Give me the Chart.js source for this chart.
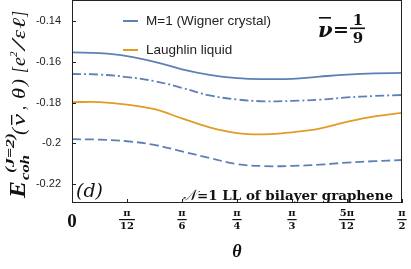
<!DOCTYPE html>
<html>
<head>
<meta charset="utf-8">
<script src="https://cdn.jsdelivr.net/npm/chart.js@4.4.0/dist/chart.umd.min.js"></script>
<style>
  html, body { margin: 0; padding: 0; background: #fff; }
  #wrap { width: 411px; height: 269px; }
</style>
</head>
<body>
<div id="wrap"><canvas id="chart"></canvas></div>
<script>
// theta in degrees (0 .. 90 = 0 .. pi/2)
const theta = [0, 7.5, 15, 22.5, 30, 37.5, 45, 52.5, 60, 67.5, 75, 82.5, 90];

const wignerSolid = [-0.1554, -0.1558, -0.1572, -0.1600, -0.1637, -0.1664, -0.1680, -0.1685, -0.1684, -0.1673, -0.1663, -0.1657, -0.1655];
const wignerDashDot = [-0.1660, -0.1663, -0.1675, -0.1695, -0.1728, -0.1765, -0.1785, -0.1794, -0.1792, -0.1786, -0.1775, -0.1768, -0.1763];
const laughlin = [-0.1798, -0.1798, -0.1810, -0.1833, -0.1878, -0.1922, -0.1950, -0.1956, -0.1946, -0.1928, -0.1895, -0.1868, -0.1851];
const wignerDashed = [-0.1980, -0.1982, -0.1990, -0.2008, -0.2040, -0.2072, -0.2102, -0.2112, -0.2111, -0.2105, -0.2095, -0.2088, -0.2082];

const yTicks = [-0.22, -0.20, -0.18, -0.16, -0.14];
const yTickLabels = ['-0.22', '-0.2', '-0.18', '-0.16', '-0.14'];

const xTicks = [0, 15, 30, 45, 60, 75, 90];
const xTickNum = ['0', '\u03c0', '\u03c0', '\u03c0', '\u03c0', '5\u03c0', '\u03c0'];
const xTickDen = ['', '12', '6', '4', '3', '12', '2'];

const legendLabels = ['M=1 (Wigner crystal)', 'Laughlin liquid'];

const BLUE = '#5e81b5';
const ORANGE = '#e19c24';
const SERIF = '"Liberation Serif", serif';
const DJ = '"DejaVu Serif", serif';
const SANS = '"Liberation Sans", Arial, sans-serif';

// draw text scaled along x so it fills a given width
function fitText(ctx, txt, x, y, w) {
    const m = ctx.measureText(txt).width;
    ctx.save();
    ctx.translate(x, y);
    ctx.scale(w / m, 1);
    ctx.fillText(txt, 0, 0);
    ctx.restore();
}

const decor = {
    id: 'decor',
    afterDraw(chart) {
        const ctx = chart.ctx;
        const a = chart.chartArea;
        const xs = chart.scales.x, ys = chart.scales.y;
        ctx.save();

        // frame
        ctx.strokeStyle = '#222';
        ctx.lineWidth = 1;
        ctx.strokeRect(a.left + 0.5, a.top + 0.5, a.right - a.left - 1, a.bottom - a.top - 1);

        // inward ticks
        ctx.beginPath();
        xTicks.forEach(v => {
            const px = Math.round(xs.getPixelForValue(v)) + 0.5;
            ctx.moveTo(px, a.bottom); ctx.lineTo(px, a.bottom - 4);
        });
        yTicks.forEach(v => {
            const py = Math.round(ys.getPixelForValue(v)) + 0.5;
            ctx.moveTo(a.left, py); ctx.lineTo(a.left + 4, py);
        });
        ctx.stroke();

        // x tick labels as fractions
        ctx.fillStyle = '#111';
        ctx.textAlign = 'center';
        ctx.textBaseline = 'middle';
        xTicks.forEach((v, i) => {
            const px = xs.getPixelForValue(v);
            if (!xTickDen[i]) {
                ctx.font = 'bold 19px ' + SERIF;
                ctx.fillText(xTickNum[i], px, a.bottom + 19);
                return;
            }
            ctx.font = 'bold 10px ' + DJ;
            ctx.fillText(xTickNum[i], px, a.bottom + 10);
            ctx.fillText(xTickDen[i], px, a.bottom + 23);
            const w = Math.max(ctx.measureText(xTickDen[i]).width, ctx.measureText(xTickNum[i]).width) + 2;
            ctx.fillRect(px - w / 2, a.bottom + 16, w, 1.2);
        });

        // x axis title
        ctx.font = 'bold italic 18px ' + SERIF;
        ctx.fillText('\u03b8', (a.left + a.right) / 2, 252);

        // legend
        const leg = [[BLUE, 21], [ORANGE, 50]];
        ctx.textAlign = 'left';
        ctx.font = '13.5px ' + SANS;
        leg.forEach((l, i) => {
            ctx.strokeStyle = l[0];
            ctx.lineWidth = 2;
            ctx.beginPath();
            ctx.moveTo(123, l[1]); ctx.lineTo(138, l[1]);
            ctx.stroke();
            ctx.fillStyle = '#222';
            ctx.fillText(legendLabels[i], 146, l[1] + 0.5);
        });

        // nu bar = 1/9
        ctx.fillStyle = '#111';
        ctx.textBaseline = 'alphabetic';
        ctx.font = 'bold italic 21px ' + DJ;
        ctx.fillText('\u03bd', 318, 37);
        ctx.fillRect(319, 17, 12, 1.6);
        ctx.font = 'bold 19px ' + DJ;
        ctx.fillText('=', 333, 36);
        ctx.textAlign = 'center';
        ctx.font = 'bold 15px ' + DJ;
        ctx.fillText('1', 358, 25);
        ctx.fillText('9', 358, 43);
        ctx.fillRect(350, 27.5, 15, 1.6);

        // panel label and caption
        ctx.textAlign = 'left';
        ctx.font = 'italic 18px ' + DJ;
        fitText(ctx, '(d)', 76, 197, 27);
        ctx.font = 'italic 15px ' + SERIF;
        fitText(ctx, '\ud835\udca9', 183, 200, 13);
        ctx.font = 'bold 13px ' + DJ;
        fitText(ctx, '=1 LL of bilayer graphene', 197, 200, 196);

        // y axis title, rotated (offsets measured along the text)
        ctx.translate(25, 198);
        ctx.rotate(-Math.PI / 2);
        ctx.font = 'bold italic 24px ' + SERIF;
        fitText(ctx, 'E', 0, 0, 17);
        ctx.font = 'italic bold 13px ' + SERIF;
        fitText(ctx, 'coh', 18, 4, 25);
        fitText(ctx, '(J=2)', 25, -11, 40);
        ctx.font = 'italic 18px ' + SERIF;
        const parts = [
            ['(', 63, 7], ['\u03bd', 72, 12], [',', 88, 4], ['\u03b8', 99, 11], [')', 112, 7],
            ['[', 125, 6], ['e', 132, 9], ['/', 148, 10], ['\u03b5', 159, 9], ['\u2113', 169, 11], [']', 181, 6]
        ];
        parts.forEach(p => fitText(ctx, p[0], p[1], 0, p[2]));
        ctx.fillRect(73, -14, 10, 1.3);
        ctx.font = 'italic 11px ' + SERIF;
        ctx.fillText('2', 141, -8);

        ctx.restore();
    }
};

new Chart(document.getElementById('chart'), {
    type: 'line',
    data: {
        labels: theta,
        datasets: [
            { label: legendLabels[0], data: wignerSolid, borderColor: BLUE, borderWidth: 1.8 },
            { label: 'dash-dot', data: wignerDashDot, borderColor: BLUE, borderWidth: 1.8, borderDash: [9, 3, 2, 3] },
            { label: legendLabels[1], data: laughlin, borderColor: ORANGE, borderWidth: 1.8 },
            { label: 'dashed', data: wignerDashed, borderColor: BLUE, borderWidth: 1.8, borderDash: [9, 4] }
        ].map(d => Object.assign(d, {
            data: d.data.map((y, i) => ({ x: theta[i], y: y })),
            pointRadius: 0, fill: false, tension: 0.4
        }))
    },
    options: {
        responsive: true,
        maintainAspectRatio: false,
        animation: false,
        layout: { padding: { top: 0, right: 9, left: 0, bottom: 0 } },
        plugins: { legend: { display: false }, tooltip: { enabled: false } },
        scales: {
            x: {
                type: 'linear', min: 0, max: 90,
                grid: { display: false }, border: { display: false },
                ticks: { display: false },
                afterFit: s => { s.height = 66; s.paddingLeft = 0; s.paddingRight = 0; }
            },
            y: {
                min: -0.2293, max: -0.1297,
                grid: { display: false }, border: { display: false },
                afterBuildTicks: s => { s.ticks = yTicks.map(v => ({ value: v })); },
                ticks: {
                    padding: 3,
                    color: '#222',
                    font: { family: SANS, size: 11 },
                    callback: v => yTickLabels[yTicks.findIndex(t => Math.abs(t - v) < 1e-9)]
                },
                afterFit: s => { s.width = 72; s.paddingTop = 0; s.paddingBottom = 0; }
            }
        }
    },
    plugins: [decor]
});
</script>
</body>
</html>
